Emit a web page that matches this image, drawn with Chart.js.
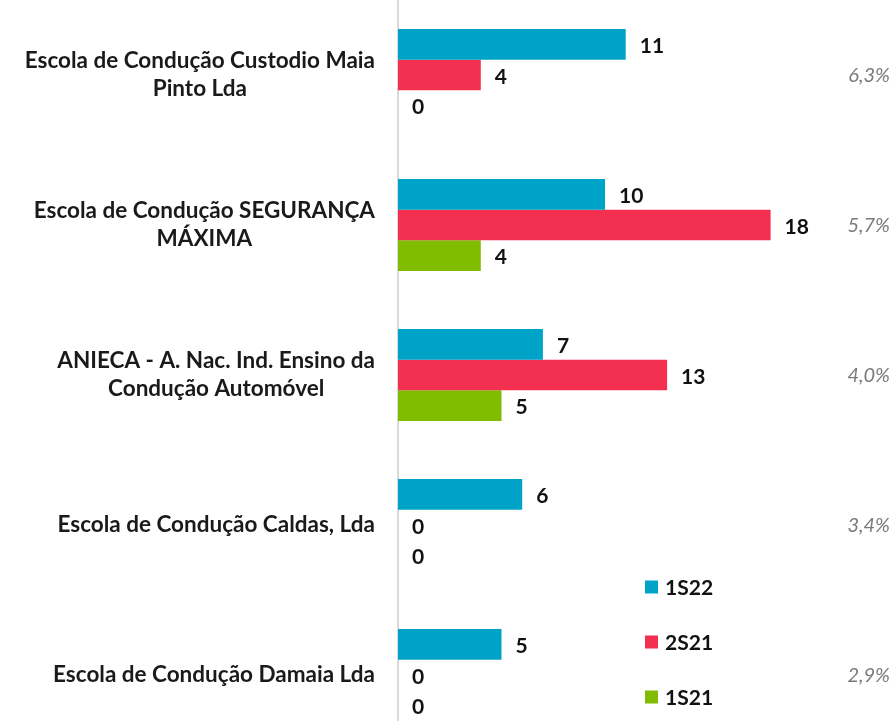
<!DOCTYPE html>
<html>
<head>
<meta charset="utf-8">
<script src="https://cdn.jsdelivr.net/npm/chart.js@4.4.0/dist/chart.umd.min.js"></script>
<style>
  html, body { margin: 0; padding: 0; background: #fff; overflow: hidden; width: 895px; height: 721px; }
  #wrap { position: absolute; left: 0; top: 0; width: 895px; height: 750px; }
</style>
</head>
<body>
<div id="wrap"><canvas id="c"></canvas></div>
<script>
const categories = [
  ["Escola de Condução Custodio Maia", "Pinto Lda"],
  ["Escola de Condução SEGURANÇA", "MÁXIMA"],
  ["ANIECA - A. Nac. Ind. Ensino da", "Condução Automóvel"],
  ["Escola de Condução Caldas, Lda"],
  ["Escola de Condução Damaia Lda"]
];
const series1S22 = [11, 10, 7, 6, 5];
const series2S21 = [4, 18, 13, 0, 0];
const series1S21 = [0, 4, 5, 0, 0];
const shares = ["6,3%", "5,7%", "4,0%", "3,4%", "2,9%"];
const seriesNames = ["1S22", "2S21", "1S21"];
const seriesColors = ["#00A3C8", "#F3304F", "#80BC00"];

const FONT = "Lato, 'Open Sans', sans-serif";

const overlay = {
  id: 'overlay',
  afterDatasetsDraw(chart) {
    const ctx = chart.ctx;
    const y = chart.scales.y;
    const area = chart.chartArea;
    ctx.save();
    // category labels: block right-aligned, lines centered
    ctx.font = "bold 22.5px " + FONT;
    ctx.fillStyle = "#1a1a1a";
    ctx.textBaseline = "middle";
    ctx.textAlign = "center";
    const lh = 28;
    const rightEdge = area.left - 23;
    categories.forEach((lines, i) => {
      const cy = y.getPixelForTick(i);
      const w = Math.max(...lines.map(l => ctx.measureText(l).width));
      const cx = rightEdge - w / 2;
      const y0 = cy - (lines.length - 1) * lh / 2;
      lines.forEach((l, k) => ctx.fillText(l, cx, y0 + k * lh));
    });
    // value labels
    ctx.textAlign = "left";
    ctx.font = "bold 21px " + FONT;
    ctx.fillStyle = "#111";
    chart.data.datasets.forEach((ds, di) => {
      const meta = chart.getDatasetMeta(di);
      meta.data.forEach((bar, i) => {
        ctx.fillText(String(ds.data[i]), bar.x + 14, bar.y + 2);
      });
    });
    // share labels
    ctx.textAlign = "right";
    ctx.font = "italic 20px " + FONT;
    ctx.fillStyle = "#7a7a7a";
    shares.forEach((s, i) => {
      ctx.fillText(s, chart.width - 5, y.getPixelForTick(i) + 1);
    });
    // legend
    ctx.textAlign = "left";
    ctx.font = "bold 21px " + FONT;
    chart.data.datasets.forEach((ds, di) => {
      const ly = area.top + 587 + di * 55;
      ctx.fillStyle = ds.backgroundColor;
      ctx.fillRect(645, ly - 6.5, 13, 13);
      ctx.fillStyle = "#111";
      ctx.fillText(ds.label, 665, ly + 1);
    });
    ctx.restore();
  }
};

new Chart(document.getElementById('c'), {
  type: 'bar',
  data: {
    labels: categories,
    datasets: [
      { label: seriesNames[0], data: series1S22, backgroundColor: seriesColors[0] },
      { label: seriesNames[1], data: series2S21, backgroundColor: seriesColors[1] },
      { label: seriesNames[2], data: series1S21, backgroundColor: seriesColors[2] }
    ]
  },
  options: {
    indexAxis: 'y',
    responsive: true,
    maintainAspectRatio: false,
    animation: false,
    layout: { padding: { left: 0, right: 83, top: 0, bottom: 0 } },
    datasets: { bar: { categoryPercentage: 0.613, barPercentage: 1.0, borderWidth: 0 } },
    plugins: { legend: { display: false }, tooltip: { enabled: false } },
    scales: {
      x: { display: false, min: 0, max: 20 },
      y: {
        display: true,
        grid: { display: false },
        border: { display: true, color: '#d9d9d9', width: 2 },
        ticks: { display: false },
        afterFit(scale) { scale.width = 398; }
      }
    }
  },
  plugins: [overlay]
});
</script>
</body>
</html>
